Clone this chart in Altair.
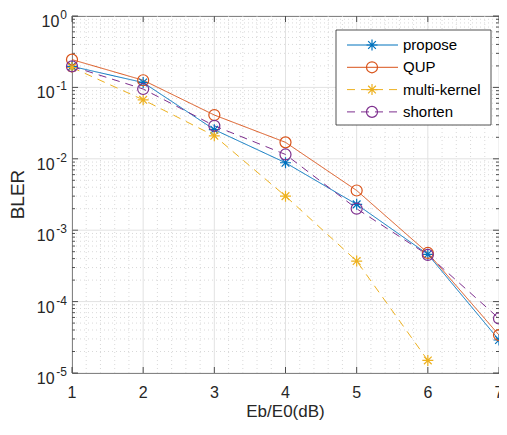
import altair as alt
import pandas as pd

# ---------------- data ----------------
x_vals = [1, 2, 3, 4, 5, 6, 7]
propose = [0.197, 0.117, 0.0256, 0.0088, 0.0023, 4.6e-4, 2.9e-5]
qup = [0.245, 0.126, 0.041, 0.017, 0.0036, 4.8e-4, 3.4e-5]
multi_kernel = [0.19, 0.067, 0.021, 0.003, 3.7e-4, 1.5e-5]  # x = 1..6
shorten = [0.197, 0.095, 0.029, 0.0115, 0.002, 4.5e-4, 5.8e-5]

series_names = ["propose", "QUP", "multi-kernel", "shorten"]
series_values = [propose, qup, multi_kernel, shorten]
colors = ["#0072BD", "#D95319", "#EDB120", "#7E2F8E"]
dashes = [[1, 0], [1, 0], [8, 6], [8, 6]]
ASTER = "M0,-1L0,1M-1,0L1,0M-0.7,-0.7L0.7,0.7M-0.7,0.7L0.7,-0.7"
shapes = [ASTER, "circle", ASTER, "circle"]

y_major = [1e-5, 1e-4, 1e-3, 1e-2, 1e-1, 1.0]
y_exps = ["-5", "-4", "-3", "-2", "-1", "0"]
y_minor = [m * 10.0 ** k for k in range(-5, 0) for m in range(2, 10)]
x_major = [1, 2, 3, 4, 5, 6, 7]
x_labels = ["1", "2", "3", "4", "5", "6", "7"]
x_minor = [round(1 + 0.2 * i, 1) for i in range(31) if i % 5 != 0]
x_title = "Eb/E0(dB)"
y_title = "BLER"

FONT = "Liberation Sans"
TXT = "#262626"
W, H = 427, 357

rows = []
for name, vals in zip(series_names, series_values):
    for xv, yv in zip(x_vals, vals):
        rows.append({"series": name, "x": xv, "y": yv})
df = pd.DataFrame(rows)

xs = alt.Scale(domain=[1, 7], nice=False, zero=False)
ys = alt.Scale(type="log", domain=[1e-5, 1], nice=False)

layers = []

# grids
def hrules(vals, **kw):
    return alt.Chart(pd.DataFrame({"v": vals})).mark_rule(**kw).encode(
        y=alt.Y("v:Q", scale=ys, axis=None), x=alt.value(0), x2=alt.value(W))

def vrules(vals, **kw):
    return alt.Chart(pd.DataFrame({"v": vals})).mark_rule(**kw).encode(
        x=alt.X("v:Q", scale=xs, axis=None), y=alt.value(0), y2=alt.value(H))

layers.append(hrules(y_minor, color="#cfcfcf", strokeDash=[1, 3], strokeWidth=0.8))
layers.append(vrules(x_minor, color="#cfcfcf", strokeDash=[1, 3], strokeWidth=0.8))
layers.append(hrules(y_major, color="#e2e2e2", strokeWidth=1))
layers.append(vrules(x_major, color="#e2e2e2", strokeWidth=1))

# inward ticks
def yticks(vals, x0, x1):
    return alt.Chart(pd.DataFrame({"v": vals})).mark_rule(color=TXT, strokeWidth=0.8).encode(
        y=alt.Y("v:Q", scale=ys, axis=None), x=alt.value(x0), x2=alt.value(x1))

def xticks(vals, y0, y1):
    return alt.Chart(pd.DataFrame({"v": vals})).mark_rule(color=TXT, strokeWidth=0.8).encode(
        x=alt.X("v:Q", scale=xs, axis=None), y=alt.value(y0), y2=alt.value(y1))

layers += [yticks(y_major, 0, 6), yticks(y_minor, 0, 3),
           yticks(y_major, W - 6, W), yticks(y_minor, W - 3, W),
           xticks(x_major, H - 6, H), xticks(x_major, 0, 6)]

color_enc = alt.Color("series:N", scale=alt.Scale(domain=series_names, range=colors), legend=None)
dash_enc = alt.StrokeDash("series:N", scale=alt.Scale(domain=series_names, range=dashes), legend=None)
shape_enc = alt.Shape("series:N", scale=alt.Scale(domain=series_names, range=shapes), legend=None)

lines = alt.Chart(df).mark_line(strokeWidth=1).encode(
    x=alt.X("x:Q", scale=xs, axis=None),
    y=alt.Y("y:Q", scale=ys, axis=None),
    color=color_enc, strokeDash=dash_enc, detail="series:N",
    order=alt.Order("x:Q"))
points = alt.Chart(df).mark_point(size=121, filled=False, strokeWidth=1.2, opacity=1).encode(
    x=alt.X("x:Q", scale=xs, axis=None),
    y=alt.Y("y:Q", scale=ys, axis=None),
    color=color_enc, shape=shape_enc)
layers += [lines, points]

# x tick labels and title
layers.append(alt.Chart(pd.DataFrame({"v": x_major, "t": x_labels})).mark_text(
    align="center", baseline="middle", fontSize=16, font=FONT, color=TXT).encode(
    x=alt.X("v:Q", scale=xs, axis=None), y=alt.value(H + 20), text="t:N"))
layers.append(alt.Chart(pd.DataFrame({"t": [x_title]})).mark_text(
    align="center", baseline="middle", fontSize=17, font=FONT, color=TXT).encode(
    x=alt.value(W / 2), y=alt.value(H + 39), text="t:N"))

# y tick labels (10 with superscript exponent)
for v, e in zip(y_major, y_exps):
    ew = 12 * (0.556 * sum(c.isdigit() for c in e) + 0.4 * e.count("-")) + 1
    d = pd.DataFrame({"v": [v], "b": ["10"], "e": [e]})
    layers.append(alt.Chart(d).mark_text(align="right", baseline="alphabetic", dy=11, fontSize=16,
                                         font=FONT, color=TXT).encode(
        y=alt.Y("v:Q", scale=ys, axis=None), x=alt.value(-5 - ew), text="b:N"))
    layers.append(alt.Chart(d).mark_text(align="right", baseline="alphabetic", dy=3, fontSize=12,
                                         font=FONT, color=TXT).encode(
        y=alt.Y("v:Q", scale=ys, axis=None), x=alt.value(-5), text="e:N"))

# y title
layers.append(alt.Chart(pd.DataFrame({"t": [y_title]})).mark_text(
    angle=270, align="center", baseline="middle", fontSize=19, font=FONT, color=TXT).encode(
    text="t:N", x=alt.value(-54), y=alt.value(H / 2)))

# legend box
layers.append(alt.Chart(pd.DataFrame({"t": [0]})).mark_rect(
    fill="white", stroke=TXT, strokeWidth=0.8).encode(
    x=alt.value(264), x2=alt.value(419), y=alt.value(14), y2=alt.value(109)))
for i, (name, c, dsh, shp) in enumerate(zip(series_names, colors, dashes, shapes)):
    ly = 29 + 22.3 * i
    d = pd.DataFrame({"t": [name]})
    layers.append(alt.Chart(d).mark_rule(color=c, strokeWidth=1, strokeDash=dsh).encode(
        x=alt.value(275), x2=alt.value(326), y=alt.value(ly)))
    layers.append(alt.Chart(d).mark_point(shape=shp, size=121, filled=False, color=c,
                                          strokeWidth=1.2, opacity=1).encode(
        x=alt.value(300), y=alt.value(ly)))
    layers.append(alt.Chart(d).mark_text(align="left", baseline="middle", fontSize=15,
                                         font=FONT, color="#000000").encode(
        x=alt.value(331), y=alt.value(ly), text="t:N"))

chart = alt.layer(*layers).properties(
    width=W, height=H,
    autosize=alt.AutoSizeParams(type="none"),
    padding={"left": 64, "top": 8, "right": 0, "bottom": 47},
).configure_view(stroke=TXT, strokeWidth=1)

chart.save("out.html", embed_options={"renderer": "svg", "actions": False})
